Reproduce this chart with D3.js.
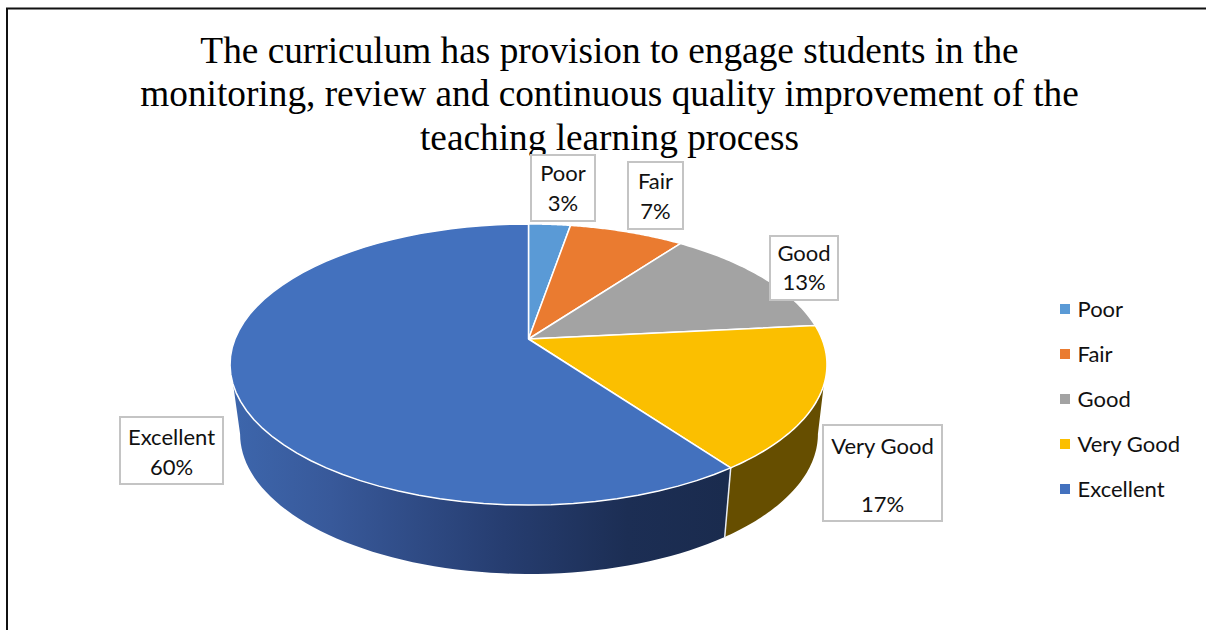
<!DOCTYPE html>
<html><head><meta charset="utf-8">
<script src="https://cdn.jsdelivr.net/npm/d3@7/dist/d3.min.js"></script>
<style>html,body{margin:0;padding:0;background:#fff;overflow:hidden}svg{display:block}
.lab{font-family:Lato,sans-serif;font-size:22px;fill:#111}
.ttl{font-family:"Liberation Serif",serif;font-size:37.3px;fill:#000}</style>
</head><body><svg id="c" width="1206" height="630"></svg>
<script>
const categories = ["Poor","Fair","Good","Very Good","Excellent"];
const shares = [2.7,7.4,13.3,16.6,60];
const percentLabels = ["3%","7%","13%","17%","60%"];
const colors = ["#5A9AD6","#EA7B30","#A3A3A3","#FBBF00","#4371BE"];
const titleLines = ["The curriculum has provision to engage students in the","monitoring, review and continuous quality improvement of the","teaching learning process"];

const svg = d3.select("#c");
const defs = svg.append("defs");
const grad = defs.append("linearGradient").attr("id","blueSide").attr("gradientUnits","userSpaceOnUse")
  .attr("x1",232).attr("x2",726).attr("y1",0).attr("y2",0);
[[0,"#3d66ac"],[0.2,"#38599a"],[0.55,"#263d70"],[0.8,"#1c2e54"],[1,"#1a2b4e"]].forEach(s=>grad.append("stop").attr("offset",s[0]).attr("stop-color",s[1]));

// frame
svg.append("path").attr("d","M7 630V8.5H1206").attr("fill","none").attr("stroke","#111").attr("stroke-width",2);

// perspective mapping of the pie disk
const p=0.1815, A=293.5, B=135.9, f=0.968, fy=0.996;
const cx=528.5, topY=339, botY=408.6;
const top3=t=>{const s=Math.sin(t),c=Math.cos(t),d=1+p*c;return [cx+A*s/d, topY-B*c/d];};
const bot3=t=>{const s=Math.sin(t),c=Math.cos(t),d=1+p*c;return [cx+0.5+f*A*s/d, botY-fy*B*c/d];};
const deg=d=>d*Math.PI/180;
const arcs=d3.pie().sort(null).value(d=>d)(shares);
const line=d3.line();
const samp=(a,b,fn)=>d3.range(0,61).map(i=>fn(a+(b-a)*i/60));

// sides
const rA=deg(108.6), rB=deg(100.5), lA=deg(251.4), lB=deg(259.5);
const jn=arcs[3].endAngle;
svg.append("path").attr("d",line([...samp(rA,jn,top3),...samp(jn,rB,bot3)])+"Z").attr("fill","#664E00");
svg.append("path").attr("d",line([...samp(jn,lA,top3),...samp(lB,jn,bot3)])+"Z").attr("fill","url(#blueSide)");
svg.append("path").attr("d",line([top3(jn),bot3(jn)])).attr("stroke","#e8ecf4").attr("stroke-width",1.5).attr("fill","none");

// top faces
svg.selectAll("path.s").data(arcs).join("path").attr("class","s")
  .attr("d",d=>line([[cx,topY],...samp(d.startAngle,d.endAngle,top3)])+"Z")
  .attr("fill",(d,i)=>colors[i]).attr("stroke","#fff").attr("stroke-width",1.5).attr("stroke-linejoin","round");

// title
const titleY=[63,106,149.5];
titleLines.forEach((t,i)=>svg.append("text").attr("class","ttl").attr("x",609.5).attr("y",titleY[i]).attr("text-anchor","middle").text(t));

// data label boxes (x, y, w, h, line gap, first baseline offset)
const boxes=[[531,155,64,66,30,26],[628,162,55,67,30,27],[770,236,68,64,29,25],[823,425,119,96,58,29],[120,417,103,67,30,28]];
boxes.forEach((b,i)=>{
  svg.append("rect").attr("x",b[0]).attr("y",b[1]).attr("width",b[2]).attr("height",b[3]).attr("fill","#fff").attr("stroke","#c4c4c4").attr("stroke-width",2);
  const mx=b[0]+b[2]/2, y1=b[1]+b[5];
  svg.append("text").attr("class","lab").attr("x",mx).attr("y",y1).attr("text-anchor","middle").text(categories[i]);
  svg.append("text").attr("class","lab").attr("x",mx).attr("y",y1+b[4]).attr("text-anchor","middle").text(percentLabels[i]);
});

// legend
const ly=d3.scalePoint().domain(categories).range([309,489]);
categories.forEach((c,i)=>{
  svg.append("rect").attr("x",1060).attr("y",ly(c)-5).attr("width",10).attr("height",10).attr("fill",colors[i]);
  svg.append("text").attr("class","lab").attr("x",1077.5).attr("y",ly(c)+8).text(c);
});
</script></body></html>
